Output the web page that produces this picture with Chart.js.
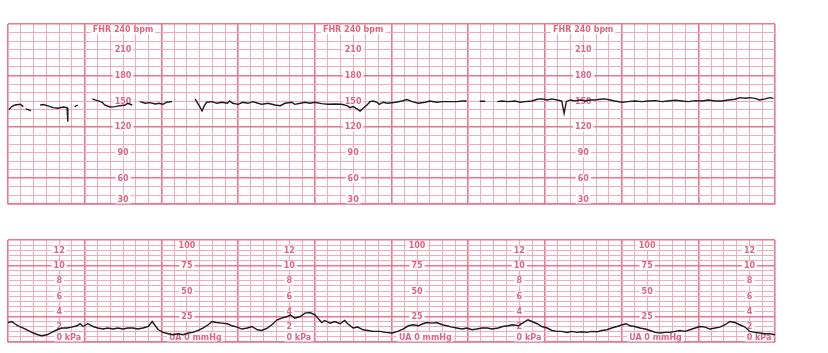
<!DOCTYPE html>
<html>
<head>
<meta charset="utf-8">
<script src="https://cdn.jsdelivr.net/npm/chart.js@4.4.0/dist/chart.umd.min.js"></script>
<style>
  html, body { margin: 0; padding: 0; background: #fff; }
  #wrap { position: relative; width: 828px; height: 353px; }
  canvas { position: absolute; left: 0; }
</style>
</head>
<body>
<div id="wrap">
  <canvas id="fhr" width="828" height="215" style="top:0"></canvas>
  <canvas id="ua" width="828" height="138" style="top:215px"></canvas>
</div>
<script>
// fetal heart rate trace, time in minutes, null = signal loss
const fhrMinutes = [
  0.01, 0.05, 0.09, 0.16, 0.20, 0.22, 0.23, 0.30, 0.36,
  0.42, 0.46, 0.51, 0.55, 0.59, 0.65, 0.72, 0.77, 0.78, 0.80, 0.87, 0.91, 1.00,
  1.10, 1.13, 1.17, 1.23, 1.26, 1.33, 1.40, 1.46, 1.53, 1.56, 1.62, 1.67,
  1.72, 1.79, 1.85, 1.92, 1.97, 2.02, 2.07, 2.14, 2.30,
  2.44, 2.46, 2.50, 2.53, 2.56, 2.59, 2.66, 2.72, 2.79, 2.86, 2.89, 2.93,
  3.00, 3.06, 3.13, 3.19, 3.26, 3.31, 3.39, 3.48, 3.55, 3.61, 3.70, 3.74,
  3.81, 3.87, 3.94, 4.00, 4.09, 4.17, 4.26, 4.35, 4.42, 4.46, 4.50, 4.55,
  4.59, 4.63, 4.68, 4.72, 4.76, 4.81, 4.84, 4.89, 4.95, 5.05, 5.14, 5.20,
  5.27, 5.35, 5.44, 5.50, 5.59, 5.67, 5.76, 5.85, 5.93, 5.98, 6.05,
  6.15, 6.22, 6.30,
  6.38, 6.44, 6.52, 6.61, 6.68, 6.74, 6.83, 6.90, 6.96, 7.03, 7.09, 7.16,
  7.22, 7.25, 7.28, 7.33, 7.39, 7.46, 7.52, 7.59, 7.65, 7.72, 7.78, 7.85,
  7.91, 8.01, 8.08, 8.17, 8.27, 8.34, 8.44, 8.53, 8.60, 8.70, 8.79, 8.87,
  8.96, 9.05, 9.13, 9.22, 9.31, 9.39, 9.48, 9.54, 9.61, 9.67, 9.74, 9.80,
  9.87, 9.93, 9.98
]
const fhrBpm = [
  140, 143.6, 145.5, 146.3, 143.6, null, 141, 139, null,
  145.5, 146, 144.7, 143.6, 142.4, 141.7, 143.2, 142.4, 126, null, 143.6, 145.5, null,
  152.6, 151.4, 150.6, 148.7, 145.5, 143.2, 143.6, 144.7, 145.5, 147.5, 145.5, null,
  149.4, 147.5, 148.3, 146.7, 147.5, 146.3, 148.7, 149.4, null,
  152.6, 149.4, 143.6, 138.5, 144.7, 148.7, 149.4, 147.5, 148.7, 147.5, 150.2, 147.5,
  146.3, 148.7, 147.5, 149.4, 147.5, 146.3, 147.5, 145.5, 144.7, 147.5, 148.7, 146.3,
  147.5, 148.7, 147.5, 148.7, 147.1, 146.3, 146.7, 146.3, 144.7, 142.4, 143.6, 140.9,
  138.5, 141.7, 145.5, 149.4, 150.2, 148.7, 146.3, 148.7, 147.5, 148.7, 150.2, 151.8,
  149.4, 147.5, 148.7, 150.2, 148.7, 149.4, 149.4, 149.4, 150.2, 150.2, null,
  149.8, 149.8, null,
  149.4, 150.2, 149.4, 150.2, 148.7, 149.4, 150.2, 152.2, 152.6, 151.4, 152.6, 151.4,
  150.2, 135.8, 149.4, 151.4, 150.2, 151.4, 150.2, 151.4, 151.4, 152.2, 152.6, 151.4,
  150.2, 148.7, 149.4, 150.2, 149.4, 150.2, 150.6, 149.4, 150.2, 151.0, 150.2, 149.4,
  150.6, 150.2, 151.4, 150.2, 150.2, 151.4, 152.2, 154.1, 153.3, 154.1, 153.3, 151.4,
  152.6, 154.1, 153.3
]

// uterine activity trace, mmHg
const uaMinutes = [
  0.00, 0.05, 0.09, 0.13, 0.20, 0.26, 0.33, 0.39, 0.44, 0.51, 0.57, 0.64,
  0.70, 0.77, 0.83, 0.90, 0.94, 0.98, 1.04, 1.11, 1.17, 1.24, 1.30, 1.37,
  1.43, 1.50, 1.56, 1.63, 1.69, 1.76, 1.83, 1.88, 1.92, 1.96, 2.02, 2.09,
  2.15, 2.22, 2.28, 2.35, 2.41, 2.48, 2.54, 2.61, 2.66, 2.72, 2.79, 2.86,
  2.92, 2.99, 3.05, 3.12, 3.18, 3.25, 3.31, 3.38, 3.44, 3.51, 3.57, 3.64,
  3.68, 3.74, 3.81, 3.87, 3.94, 4.00, 4.04, 4.09, 4.13, 4.20, 4.26, 4.33,
  4.39, 4.43, 4.50, 4.56, 4.63, 4.69, 4.76, 4.85, 4.92, 5.01, 5.08, 5.15,
  5.22, 5.28, 5.35, 5.41, 5.46, 5.53, 5.59, 5.66, 5.72, 5.79, 5.85, 5.92,
  5.98, 6.05, 6.11, 6.18, 6.25, 6.31, 6.39, 6.45, 6.52, 6.58, 6.65, 6.71,
  6.78, 6.83, 6.90, 6.96, 7.03, 7.09, 7.16, 7.22, 7.29, 7.35, 7.42, 7.48,
  7.55, 7.61, 7.68, 7.74, 7.81, 7.87, 7.94, 8.01, 8.06, 8.11, 8.17, 8.24,
  8.31, 8.37, 8.44, 8.50, 8.57, 8.63, 8.70, 8.76, 8.83, 8.89, 8.96, 9.02,
  9.09, 9.15, 9.22, 9.28, 9.35, 9.41, 9.48, 9.54, 9.61, 9.67, 9.74, 9.80,
  9.87, 9.93, 10.00
]
const uaMmHg = [
  19.1, 20.1, 17.9, 15.9, 13.7, 11.3, 8.8, 7.1, 6.2, 7.1, 9.4, 12.0,
  13.7, 13.7, 14.6, 15.9, 17.9, 15.2, 17.9, 15.2, 13.7, 12.7, 13.7, 12.7,
  13.7, 12.7, 13.7, 13.7, 12.7, 13.7, 15.2, 20.1, 15.9, 12.0, 9.4, 8.1,
  7.1, 8.1, 7.1, 8.8, 9.4, 11.3, 13.7, 16.9, 20.1, 19.1, 18.5, 17.9,
  15.9, 14.6, 12.7, 13.7, 15.2, 12.0, 11.3, 13.7, 16.9, 21.8, 23.4, 25.0,
  26.7, 23.4, 25.0, 28.3, 28.9, 26.7, 23.4, 19.1, 21.1, 18.5, 20.1, 17.9,
  21.1, 17.9, 13.7, 14.6, 12.0, 11.3, 10.4, 10.4, 9.4, 8.8, 10.4, 12.7,
  15.9, 16.9, 15.9, 17.9, 19.1, 18.5, 19.1, 16.9, 15.9, 14.6, 13.7, 12.7,
  13.7, 12.0, 12.7, 13.7, 13.7, 12.7, 13.7, 15.2, 15.9, 16.9, 15.9, 18.5,
  21.8, 20.1, 17.9, 15.2, 13.7, 11.3, 10.4, 10.4, 9.4, 10.4, 9.4, 10.0,
  9.4, 10.4, 10.0, 11.3, 12.0, 13.7, 15.2, 16.9, 17.9, 15.9, 15.2, 13.7,
  12.7, 11.3, 9.4, 8.8, 9.4, 9.4, 10.4, 11.3, 10.4, 12.0, 13.7, 15.2,
  14.6, 12.7, 13.7, 14.6, 16.9, 20.1, 19.1, 16.9, 14.6, 10.4, 9.4, 8.8,
  8.1, 8.1, 7.1
]

// printed scale labels on the paper
const fhrLabelBpm = [210, 180, 150, 120, 90, 60]
const fhrLabelMinutes = [1.5, 4.5, 7.5]
const kpaLabels = [12, 10, 8, 6, 4, 2]
const kpaLabelMinutes = [0.667, 3.667, 6.667, 9.667]
const mmHgLabels = [75, 50, 25]
const mmHgLabelMinutes = [2.333, 5.333, 8.333]

const MAJOR = 'rgb(230,120,144)'
const MINOR = 'rgb(243,170,185)'
const INK = 'rgb(224,100,128)'
const FONT = 'bold 8px "DejaVu Sans"'

const tenSecondTicks = scale => {
  scale.ticks = []
  for (let i = 0; i <= 60; i++) scale.ticks.push({ value: i / 6 })
}

const xAxis = () => ({
  type: 'linear',
  min: 0,
  max: 10,
  afterBuildTicks: tenSecondTicks,
  ticks: { display: false },
  grid: {
    drawTicks: false,
    color: c => (c.index % 6 === 0 ? MAJOR : MINOR),
    lineWidth: c => (c.index % 6 === 0 ? 1.6 : 1)
  },
  border: { display: true, color: MAJOR, width: 1.6 }
})

// text on a white patch; the middle part is centred on x
function tag(ctx, before, core, after, x, y) {
  ctx.font = FONT
  const wb = ctx.measureText(before).width
  const wc = ctx.measureText(core).width
  const wa = ctx.measureText(after).width
  const left = x - wb - wc / 2
  ctx.fillStyle = '#fff'
  ctx.fillRect(left - 2, y - 4.5, wb + wc + wa + 4, 9)
  ctx.fillStyle = INK
  ctx.textBaseline = 'middle'
  ctx.textAlign = 'left'
  ctx.fillText(before + core + after, left, y + 0.5)
}

const fhrText = {
  id: 'fhrText',
  beforeDatasetsDraw(chart) {
    const { ctx, scales: { x, y } } = chart
    ctx.save()
    fhrLabelMinutes.forEach(m => {
      const px = x.getPixelForValue(m)
      tag(ctx, '', 'FHR 240 bpm', '', px, y.getPixelForValue(240) + 5.5)
      fhrLabelBpm.forEach(v => tag(ctx, '', String(v), '', px, y.getPixelForValue(v)))
      tag(ctx, '', '30', '', px, y.getPixelForValue(30) - 5)
    })
    ctx.restore()
  }
}

const uaText = {
  id: 'uaText',
  beforeDatasetsDraw(chart) {
    const { ctx, scales: { x, y } } = chart
    ctx.save()
    kpaLabelMinutes.forEach(m => {
      const px = x.getPixelForValue(m)
      kpaLabels.forEach(k => tag(ctx, '', String(k), '', px, y.getPixelForValue(k * 7.5)))
      tag(ctx, '', '0', ' kPa', px, y.getPixelForValue(0) - 5)
    })
    mmHgLabelMinutes.forEach(m => {
      const px = x.getPixelForValue(m)
      tag(ctx, '', '100', '', px, y.getPixelForValue(100) + 5.5)
      mmHgLabels.forEach(v => tag(ctx, '', String(v), '', px, y.getPixelForValue(v)))
      tag(ctx, 'UA ', '0', ' mmHg', px, y.getPixelForValue(0) - 5)
    })
    ctx.restore()
  }
}

const base = {
  responsive: false,
  animation: false,
  events: [],
  plugins: { legend: { display: false }, tooltip: { enabled: false } },
  elements: { point: { radius: 0 }, line: { tension: 0 } }
}

new Chart(document.getElementById('fhr'), {
  type: 'line',
  data: {
    datasets: [{
      data: fhrMinutes.map((t, i) => ({ x: t, y: fhrBpm[i] })),
      borderColor: '#1a1a1a',
      borderWidth: 1.4,
      spanGaps: false
    }]
  },
  options: {
    ...base,
    layout: { padding: { left: 8, right: 53, top: 24, bottom: 11 } },
    scales: {
      x: xAxis(),
      y: {
        min: 30,
        max: 240,
        ticks: { display: false, stepSize: 10 },
        grid: {
          drawTicks: false,
          color: c => (c.tick && c.tick.value % 60 === 0 ? MAJOR : MINOR),
          lineWidth: c => (c.tick && c.tick.value % 60 === 0 ? 1.6 : 1)
        },
        border: { display: false }
      }
    }
  },
  plugins: [fhrText]
})

new Chart(document.getElementById('ua'), {
  type: 'line',
  data: {
    datasets: [{
      data: uaMinutes.map((t, i) => ({ x: t, y: uaMmHg[i] })),
      borderColor: '#1a1a1a',
      borderWidth: 1.4
    }]
  },
  options: {
    ...base,
    layout: { padding: { left: 8, right: 53, top: 25, bottom: 11 } },
    scales: {
      x: xAxis(),
      y: {
        min: 0,
        max: 100,
        ticks: { display: false, stepSize: 5 },
        grid: {
          drawTicks: false,
          color: c => (c.tick && (c.tick.value % 50 === 25 || c.tick.value === 100) ? MAJOR : MINOR),
          lineWidth: c => (c.tick && (c.tick.value % 50 === 25 || c.tick.value === 100) ? 1.6 : 1)
        },
        border: { display: false }
      }
    }
  },
  plugins: [uaText]
})
</script>
</body>
</html>
